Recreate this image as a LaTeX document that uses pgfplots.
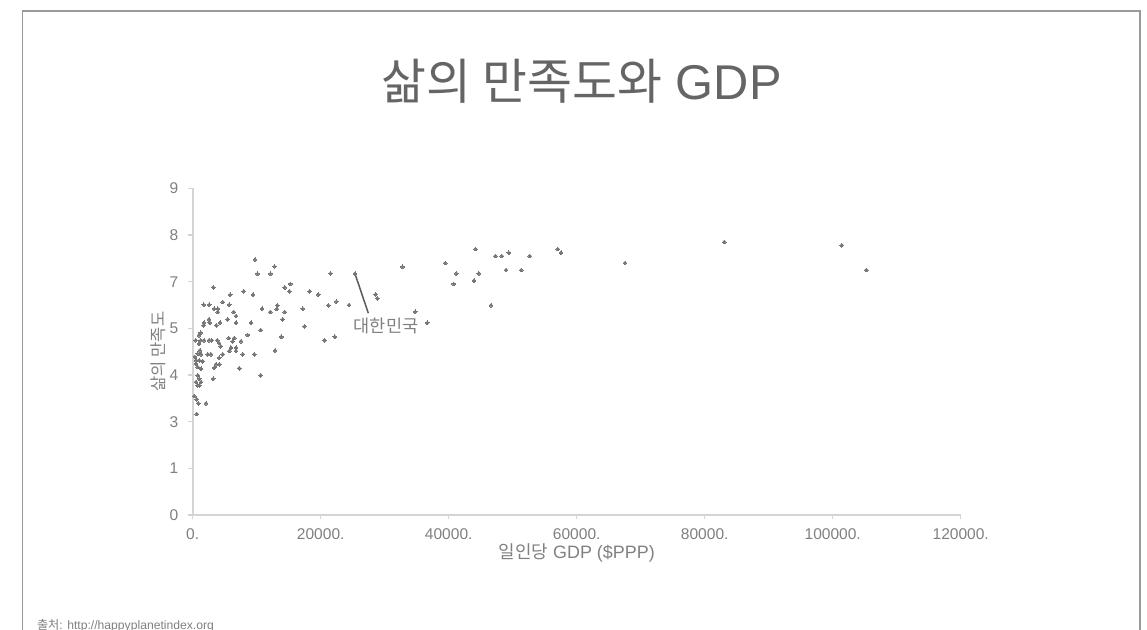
\documentclass[border=0pt]{standalone}
\usepackage{pgfplots}
\pgfplotsset{compat=1.18}
\usepackage{fontspec}
\setmainfont{Liberation Sans}
\newfontfamily\kr{Noto Sans CJK KR}
\definecolor{titlegray}{HTML}{656565}
\definecolor{labgray}{HTML}{808080}
\definecolor{axgray}{HTML}{D4D4D4}
\definecolor{dotgray}{HTML}{777777}
\definecolor{linegray}{HTML}{5A5A5A}
\definecolor{framegray}{HTML}{9A9A9A}
\begin{document}
\begin{tikzpicture}
\useasboundingbox (0,0) rectangle (573.5bp,-315bp);
\begin{scope}
\clip (0,0) rectangle (573.5bp,-315bp);
\draw[framegray, line width=0.9bp] (11.2bp,-400bp) -- (11.2bp,-5.3bp) -- (570bp,-5.3bp) -- (570bp,-400bp);
\end{scope}
\node[titlegray, font=\fontsize{24.5}{26}\selectfont, anchor=center] at (290.85bp,-40.5bp) {{\kr 삶의 만족도와} GDP};
\node[labgray, font=\fontsize{6.1}{7}\selectfont, anchor=base west] at (15bp,-314.5bp) {{\kr 출처}: http://happyplanetindex.org};
\begin{axis}[
  at={(96.35bp,-257.5bp)}, anchor=south west,
  scale only axis, width=384bp, height=163.35bp,
  xmin=0, xmax=120000, ymin=0, ymax=9,
  clip=false,
  axis x line=bottom, axis y line=left,
  axis line style={-, axgray, line width=0.8bp},
  tick style={axgray, line width=0.6bp},
  tick align=outside, major tick length=2.2bp,
  xtick={0,20000,40000,60000,80000,100000,120000},
  xticklabels={0.,20000.,40000.,60000.,80000.,100000.,120000.},
  ytick={0,1.285714,2.571429,3.857143,5.142857,6.428571,7.714286,9},
  yticklabels={0,1,3,4,5,7,8,9},
  ticklabel style={labgray, font=\fontsize{7.8}{8}\selectfont},
  xticklabel style={yshift=-1bp},
  yticklabel style={xshift=-1.5bp},
  /pgf/number format/assume math mode=true,
  scaled x ticks=false,
]
\addplot[only marks, color=dotgray, mark=*, mark size=0.95bp, mark options={solid, draw=dotgray, fill=dotgray, line width=0pt}] coordinates {
(3219,6.273) (5875,6.069) (7969,6.163) (9422,6.069) (1719,5.793) (2594,5.793)
(3375,5.683) (3906,5.683) (3906,5.592) (4688,5.868) (5719,5.793) (6406,5.592)
(6766,5.482) (5469,5.391) (6766,5.297) (9109,5.297) (2547,5.391) (2656,5.297)
(1766,5.297) (1719,5.226) (3688,5.226) (4266,5.297) (1250,5.022) (984,4.950)
(469,4.813) (1250,4.813) (984,4.719) (1766,4.813) (2547,4.813) (2969,4.813)
(3844,4.813) (4109,4.738) (4375,4.647) (5625,4.876) (6500,4.876) (6250,4.785)
(7547,4.785) (8594,4.959) (1141,4.537) (781,4.444) (1297,4.427) (2344,4.427)
(2859,4.427) (4688,4.427) (5719,4.518) (5984,4.609) (6766,4.609) (6766,4.518)
(7813,4.427) (9625,4.427) (4156,4.333) (359,4.353) (516,4.262) (1031,4.262)
(1563,4.234) (516,4.168) (781,4.077) (1297,4.030) (3641,4.152) (4156,4.152)
(3375,4.058) (7281,4.041) (781,3.848) (1031,3.755) (516,3.664) (1297,3.664)
(781,3.573) (1031,3.573) (3219,3.755) (250,3.278) (625,3.187) (875,3.077)
(2078,3.077) (625,2.782)
(9734,7.039) (12781,6.846) (10125,6.647) (12156,6.647) (21531,6.653) (15250,6.364)
(14375,6.267) (15094,6.163) (18297,6.165) (19625,6.074) (13219,5.777) (13125,5.675)
(10828,5.683) (12125,5.592) (14375,5.592) (17188,5.683) (21172,5.780) (22438,5.879)
(14063,5.391) (10625,5.096) (17500,5.198) (13844,4.909) (20594,4.813) (22203,4.909)
(12859,4.532) (10625,3.848)
(25359,6.647) (32781,6.840) (39453,6.942) (44188,7.328) (47313,7.135) (48281,7.135)
(49375,7.226) (52656,7.135) (57031,7.328) (57547,7.226) (41188,6.653) (40781,6.364)
(44688,6.653) (43953,6.455) (48953,6.749) (51344,6.749) (46609,5.780) (28594,6.080)
(28844,5.970) (34766,5.598) (36641,5.297) (24422,5.785) (67547,6.942) (83063,7.521)
(101406,7.430) (105250,6.749)
};
\draw[linegray, line width=0.75bp] (axis cs:25359,6.647) -- (axis cs:27440,5.56);
\node[labgray, font=\kr\fontsize{8.8}{9}\selectfont, anchor=center] at (axis cs:30220,5.22) {대한민국};
\node[labgray, font=\fontsize{9}{10}\selectfont, anchor=base] at (axis cs:60000,-1.2) {{\kr 일인당} GDP (\$PPP)};
\node[labgray, font=\kr\fontsize{8.3}{9}\selectfont, rotate=90, anchor=center] at (axis cs:-5300,4.5) {삶의 만족도};
\end{axis}
\end{tikzpicture}
\end{document}
